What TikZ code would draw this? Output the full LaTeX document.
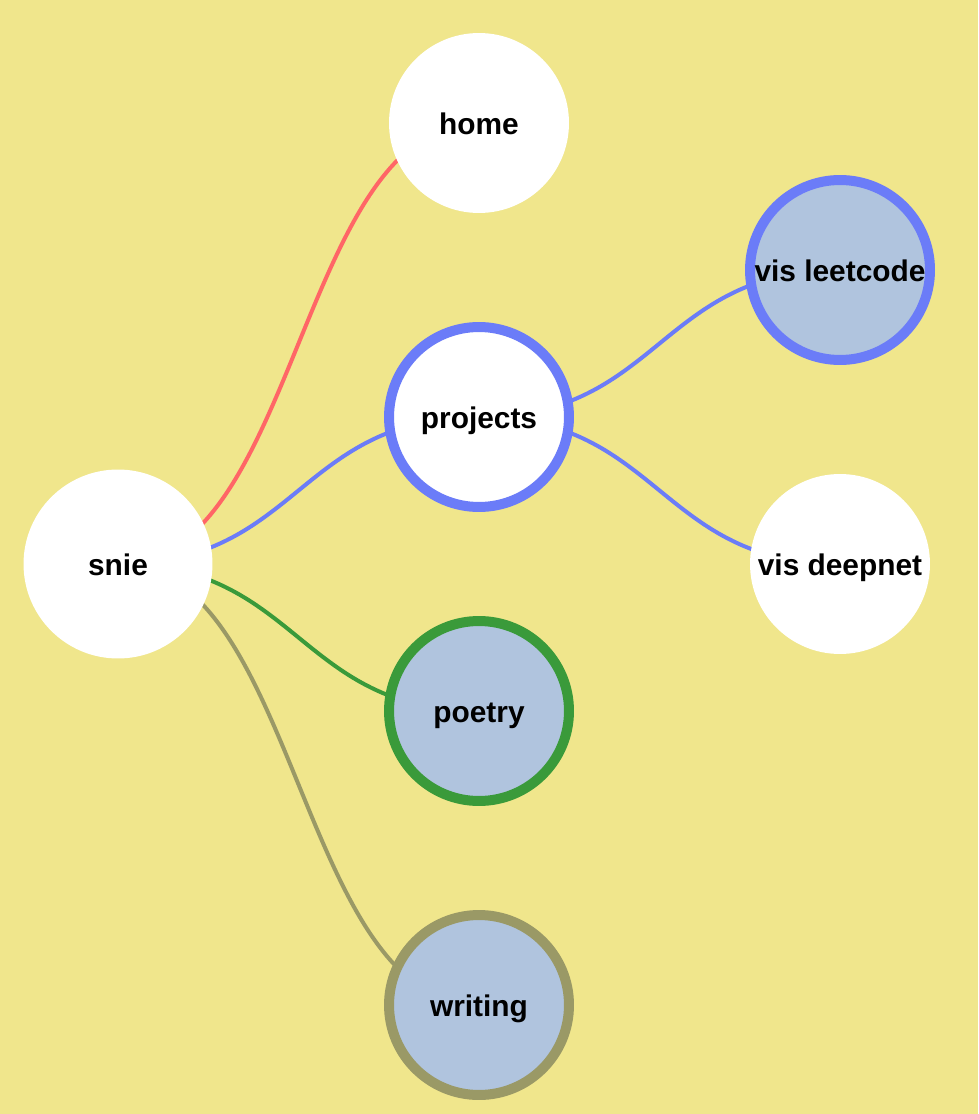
\documentclass[tikz,border=0pt]{standalone}
\usepackage{fontspec}
\setmainfont{Liberation Sans}
\usetikzlibrary{backgrounds}

\definecolor{khaki}{HTML}{F0E68C}
\definecolor{steel}{HTML}{B0C4DE}
\definecolor{linkblue}{HTML}{6B7CF8}
\definecolor{linkred}{HTML}{FF6666}
\definecolor{linkgreen}{HTML}{3A9A3A}
\definecolor{linkolive}{HTML}{9A9966}

\tikzset{
  leaf/.style={circle, fill=white, minimum size=3.6cm, inner sep=0pt,
    font=\fontsize{17}{20}\selectfont\bfseries},
  expanded/.style={leaf, line width=0.2cm, draw=#1},
  collapsed/.style={leaf, fill=steel, line width=0.2cm, draw=#1},
  link/.style={line width=0.08cm, draw=#1},
}
\newcommand{\nm}[1]{\makebox[0pt]{\rule{0pt}{0.74em}\smash{#1}}}

\begin{document}
\begin{tikzpicture}[x=0.02cm, y=-0.02cm]
    \node[leaf, minimum size=3.78cm] (snie) at (118,564) {\nm{snie}};

    \node[leaf] (home) at (479,123) {\nm{home}};
    \node[expanded=linkblue] (projects) at (479,417) {\nm{projects}};
    \node[collapsed=linkgreen] (poetry) at (479,711) {\nm{poetry}};
    \node[collapsed=linkolive] (writing) at (479,1005) {\nm{writing}};

    \node[collapsed=linkblue] (leetcode) at (840,270) {\nm{vis leetcode}};
    \node[leaf] (deepnet) at (840,564) {\nm{vis deepnet}};

    \begin{scope}[on background layer]
        \fill[khaki] (0,0) rectangle (978,1114);

        \draw[link=linkred] (snie.center) .. controls +(180.5,0) and +(-180.5,0) .. (home.center);
        \draw[link=linkblue] (snie.center) .. controls +(180.5,0) and +(-180.5,0) .. (projects.center);
        \draw[link=linkgreen] (snie.center) .. controls +(180.5,0) and +(-180.5,0) .. (poetry.center);
        \draw[link=linkolive] (snie.center) .. controls +(180.5,0) and +(-180.5,0) .. (writing.center);

        \draw[link=linkblue] (projects.center) .. controls +(180.5,0) and +(-180.5,0) .. (leetcode.center);
        \draw[link=linkblue] (projects.center) .. controls +(180.5,0) and +(-180.5,0) .. (deepnet.center);
    \end{scope}
\end{tikzpicture}
\end{document}
